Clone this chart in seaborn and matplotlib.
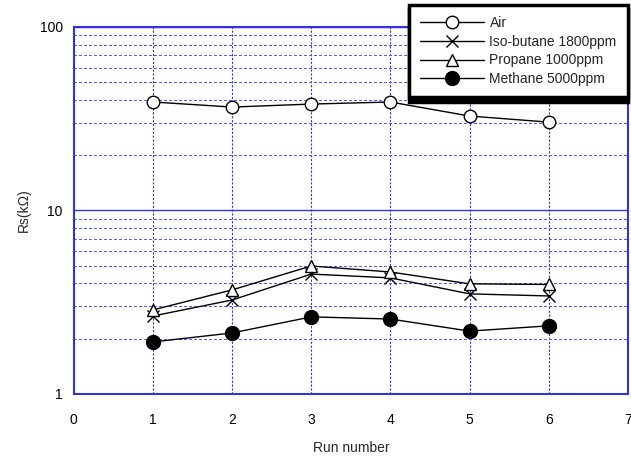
"""Sensor resistance per run, log scale, one line per gas."""

import matplotlib
matplotlib.use("Agg")
import matplotlib.pyplot as plt
import pandas as pd
import seaborn as sns
from matplotlib.ticker import FixedLocator, LogLocator, NullFormatter

runs = [1, 2, 3, 4, 5, 6]
air = [39.0, 36.6, 38.0, 39.0, 32.7, 30.3]
isobutane = [2.66, 3.25, 4.5, 4.29, 3.51, 3.42]
propane = [2.87, 3.69, 4.98, 4.62, 3.98, 3.95]
methane = [1.92, 2.15, 2.63, 2.56, 2.2, 2.35]

labels = ["Air", "Iso-butane 1800ppm", "Propane 1000ppm", "Methane 5000ppm"]
series = [air, isobutane, propane, methane]

df = pd.concat(
    [pd.DataFrame({"run": runs, "rs": vals, "gas": lab}) for lab, vals in zip(labels, series)],
    ignore_index=True,
)

# marker, size, facecolour
marker_style = {
    "Air": ("o", 9, "white"),
    "Iso-butane 1800ppm": ("x", 9, "black"),
    "Propane 1000ppm": ("^", 8, "white"),
    "Methane 5000ppm": ("o", 10, "black"),
}

sns.set_theme(style="white")
plt.rcParams["font.family"] = ["Liberation Sans", "DejaVu Sans"]

fig = plt.figure(figsize=(6.31, 4.57), dpi=100)
ax = fig.add_axes([0.117, 0.138, 0.878, 0.803])

grid_blue = "#3333dd"
minor_blue = "#5a5af0"
for lab in labels:
    m, ms, fc = marker_style[lab]
    sns.lineplot(
        data=df[df["gas"] == lab], x="run", y="rs", ax=ax,
        color="black", lw=1, marker=m, markersize=ms,
        markerfacecolor=fc, markeredgecolor="black", markeredgewidth=1,
        label=lab, zorder=3,
    )

ax.set_yscale("log")
ax.set_xlim(0, 7)
ax.set_ylim(1, 100)
ax.set_xticks(range(0, 8))
ax.yaxis.set_major_locator(FixedLocator([1, 10, 100]))
ax.set_yticklabels(["1", "10", "100"])
ax.yaxis.set_minor_locator(LogLocator(base=10, subs=range(2, 10)))
ax.yaxis.set_minor_formatter(NullFormatter())
ax.tick_params(axis="y", which="both", length=0, labelsize=10, pad=8, labelcolor="black")
ax.tick_params(axis="x", which="both", length=0, labelsize=10, pad=14, labelcolor="black")

ax.grid(axis="y", which="major", color=grid_blue, lw=1, ls="-", zorder=1)
ax.grid(axis="y", which="minor", color=minor_blue, lw=1.0, ls=(0, (1.5, 1.5)),
        antialiased=False, zorder=1)
ax.grid(axis="x", which="major", color=grid_blue, lw=0.8, ls=(0, (2, 1.5)), zorder=1)
for sp in ax.spines.values():
    sp.set_color(grid_blue)
    sp.set_linewidth(1.5)

ax.set_xlabel("Run number", fontsize=10, labelpad=10)
ax.set_ylabel("Rs(k\u03a9)", fontsize=10, labelpad=6)

leg = ax.legend(
    loc="upper right", bbox_to_anchor=(0.995, 0.99), bbox_transform=fig.transFigure,
    frameon=True, fancybox=False, edgecolor="black", framealpha=1,
    shadow={"ox": 0, "oy": -3, "color": "black", "alpha": 1},
    handlelength=4.6, handletextpad=0.4, borderpad=0.8, labelspacing=0.35,
    borderaxespad=0, fontsize=10,
)
leg.get_frame().set_linewidth(2.5)

fig.savefig("out.png", dpi=100)
